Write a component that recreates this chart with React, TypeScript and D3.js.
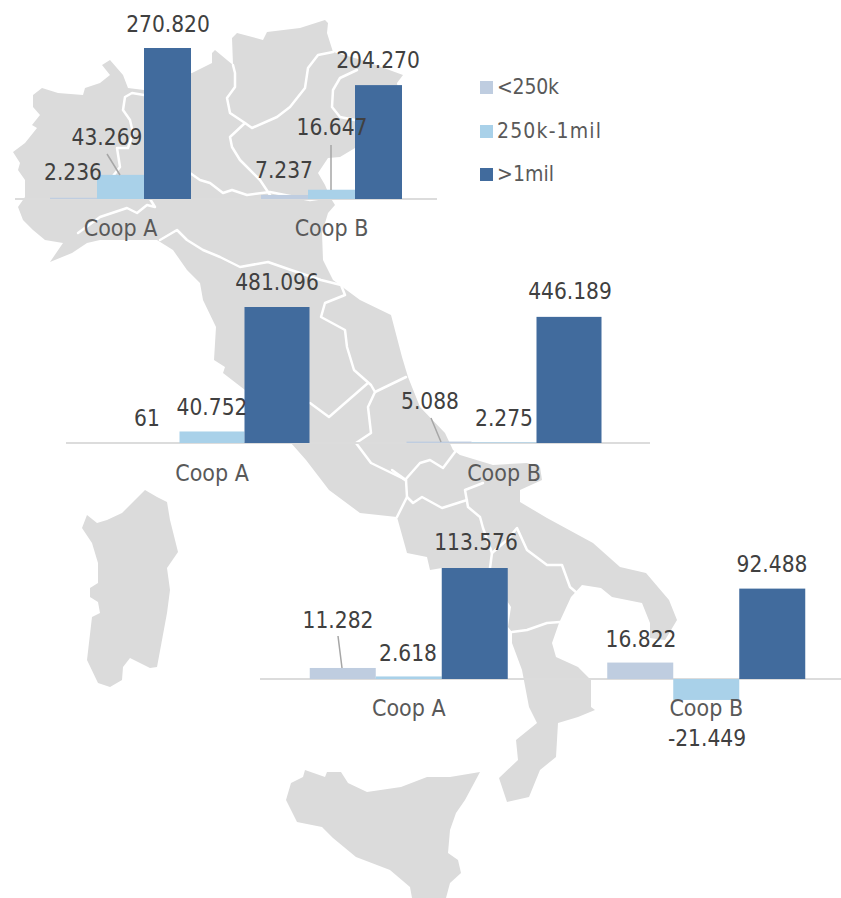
import React from "react";
import * as d3 from "d3";

// ---- chart data ----
const categories = ["Coop A", "Coop B"];
const seriesNames = ["<250k", "250k-1mil", ">1mil"];
const seriesColors = ["#bfcde0", "#a9d1e9", "#416b9d"];
const northValues = [[2236, 43269, 270820], [7237, 16647, 204270]];
const centreValues = [[61, 40752, 481096], [5088, 2275, 446189]];
const southValues = [[11282, 2618, 113576], [16822, -21449, 92488]];

// ---- layout of the three small charts over the map ----
const panels = [
  { values: northValues, axisY: 199, topY: 48, xStart: 15, band: 211, barW: 47, catY: 236,
    labels: [[[73, 180], [107, 145], [168, 32]], [[284, 178], [332, 135], [378, 68]]] },
  { values: centreValues, axisY: 443, topY: 307, xStart: 66, band: 292, barW: 65, catY: 481,
    labels: [[[147, 426], [212, 415], [277, 290]], [[430, 409], [504, 426], [570, 299]]] },
  { values: southValues, axisY: 679, topY: 568, xStart: 260, band: 297.5, barW: 66, catY: 716,
    labels: [[[338, 628], [408, 661], [476, 550]], [[641, 647], [707, 746], [772, 572]]] },
];
const leaders = [
  [[107, 154], [120, 175]],
  [[331, 145], [331, 190]],
  [[431, 418], [441, 442]],
  [[338, 636], [342, 668]],
];

// ---- background map, traced by hand ----
const mainland: [number, number][] = [
  [33,95],[42,88],[58,93],[83,95],[85,88],[100,83],[110,75],[102,65],[110,60],[123,75],[128,88],[144,90],[150,78],[192,73],
  [212,63],[212,53],[215,50],[233,65],[232,38],[237,33],[263,40],[267,32],[300,28],[325,20],[328,23],[327,33],[333,52],
  [362,60],[403,75],[397,83],[402,120],[390,145],[355,148],[340,157],[328,158],[318,173],[325,185],[330,197],[335,205],
  [328,213],[322,233],[323,260],[333,280],[360,300],[391,315],[402,357],[408,377],[420,407],[445,433],[453,450],[460,455],
  [493,465],[527,463],[540,467],[542,480],[520,490],[520,502],[547,518],[593,543],[620,567],[646,573],[669,600],[677,620],
  [665,640],[650,638],[650,623],[642,603],[612,597],[601,588],[582,585],[571,597],[559,623],[552,643],[556,657],[578,667],
  [591,680],[591,707],[595,710],[578,717],[558,723],[556,757],[540,770],[529,797],[507,802],[499,778],[518,760],[516,740],
  [537,723],[529,707],[522,670],[512,643],[512,632],[508,627],[511,607],[500,590],[442,568],[430,570],[427,557],[407,553],
  [397,517],[360,513],[329,490],[306,460],[291,443],[245,390],[223,373],[225,367],[214,360],[216,327],[203,300],[200,283],
  [187,270],[173,250],[157,240],[100,240],[87,243],[72,253],[50,262],[63,243],[45,240],[33,230],[23,220],[18,207],[25,197],
  [25,180],[18,170],[20,163],[13,152],[25,143],[37,128],[32,125],[40,115],[33,107],
];
const sardinia: [number, number][] = [
  [145,490],[157,497],[167,502],[170,520],[178,552],[167,568],[170,590],[167,613],[157,667],[150,668],[130,658],[123,667],
  [122,680],[110,687],[98,683],[87,660],[92,617],[100,613],[98,602],[90,597],[90,588],[98,583],[98,563],[92,543],[82,528],
  [87,515],[97,523],[107,520],[122,513],[135,500],
];
const sicily: [number, number][] = [
  [286,800],[291,783],[303,777],[305,770],[325,777],[327,772],[341,772],[348,783],[367,792],[401,787],[427,777],[450,777],
  [480,772],[465,800],[456,813],[450,830],[448,853],[458,860],[461,873],[450,883],[446,898],[412,898],[410,887],[390,870],
  [356,857],[333,838],[322,827],[297,822],
];
const borders: [number, number][][] = [
  [[144,95],[132,93],[125,97],[123,110],[130,120],[133,133],[128,148],[117,148],[120,167],[113,176]],
  [[78,233],[100,217],[127,208],[137,213],[147,205],[155,207],[150,199]],
  [[160,240],[177,230],[187,240],[203,250],[220,257],[240,267],[268,262],[291,270],[321,280],[341,285],[345,295],[325,303],
   [321,317],[345,330],[347,347],[354,370],[371,385],[375,392],[368,407],[371,433],[356,443],[371,463],[406,480],[407,497],[397,517]],
  [[368,383],[329,417],[310,403]],
  [[375,392],[406,377]],
  [[233,65],[235,73],[235,87],[227,98],[230,113],[245,123],[252,128],[277,117],[290,107],[305,88],[308,68],[318,55],[333,52]],
  [[245,123],[230,137],[232,147],[240,160],[260,180],[270,195]],
  [[357,70],[340,78],[333,90],[332,107],[340,117],[355,120]],
  [[190,173],[200,180],[210,183],[223,193],[232,190],[247,195],[270,192],[310,200],[330,197]],
  [[406,480],[392,470],[405,480],[420,463],[430,460],[443,468],[455,452]],
  [[407,497],[413,503],[422,497],[442,508],[467,500]],
  [[483,483],[465,490],[468,507],[480,517],[483,528],[492,553],[490,568]],
  [[492,553],[507,540],[517,528],[527,550],[547,565],[562,565],[570,587],[577,593]],
  [[512,632],[527,630],[547,623],[560,622]],
];
const mapPaths = [mainland, sardinia, sicily];

const legendRows = [87, 131, 174];
const legendTextWidths = [62, 104, 57];
const FONT = "'DejaVu Sans Condensed', 'DejaVu Sans', sans-serif";
const dotted = d3.formatLocale({ decimal: ",", thousands: ".", grouping: [3], currency: ["", ""], minus: "-" }).format(",d");

function Panel({ p }: { p: (typeof panels)[number] }) {
  const max = d3.max(p.values.flat()) as number;
  const y = d3.scaleLinear().domain([0, max]).range([p.axisY, p.topY]);
  const x0 = d3.scaleBand<string>().domain(categories).range([p.xStart, p.xStart + p.band * 2]);
  const x1 = d3.scaleBand<string>().domain(seriesNames).range([0, p.barW * 3]);
  const offset = (p.band - p.barW * 3) / 2;
  return (
    <g>
      <line x1={p.xStart} x2={p.xStart + p.band * 2} y1={p.axisY} y2={p.axisY} stroke="#dcdcdc" strokeWidth={2} />
      {categories.map((c, ci) => (
        <g key={c}>
          {seriesNames.map((s, si) => {
            const v = p.values[ci][si];
            return (
              <rect key={s} x={(x0(c) as number) + offset + (x1(s) as number)} width={x1.bandwidth()}
                y={Math.min(y(v), y(0))} height={Math.abs(y(v) - y(0))} fill={seriesColors[si]} />
            );
          })}
          <text x={(x0(c) as number) + p.band / 2} y={p.catY} textAnchor="middle" fontSize={23} fill="#595959">{c}</text>
        </g>
      ))}
    </g>
  );
}

function PanelLabels({ p }: { p: (typeof panels)[number] }) {
  return (
    <g>
      {p.values.map((row, ci) => row.map((v, si) => (
        <text key={`${ci}-${si}`} x={p.labels[ci][si][0]} y={p.labels[ci][si][1]} textAnchor="middle" fontSize={22.5} fill="#404040">{dotted(v)}</text>
      )))}
    </g>
  );
}

export default function App() {
  const line = d3.line();
  return (
    <svg width={841} height={898} style={{ position: "absolute", left: 0, top: 0 }} fontFamily={FONT}>
      <rect width={841} height={898} fill="#ffffff" />
      {mapPaths.map((m, i) => <path key={i} d={line(m) + "Z"} fill="#dbdbdb" />)}
      {borders.map((b, i) => (
        <path key={i} d={line(b) as string} fill="none" stroke="#ffffff" strokeWidth={2.5} strokeLinejoin="round" strokeLinecap="round" />
      ))}
      {panels.map((p, i) => <Panel key={i} p={p} />)}
      {leaders.map((l, i) => (
        <path key={i} d={line(l as [number, number][]) as string} fill="none" stroke="#a6a6a6" strokeWidth={1.5} />
      ))}
      {panels.map((p, i) => <PanelLabels key={i} p={p} />)}
      {seriesNames.map((s, i) => (
        <g key={s}>
          <rect x={480} y={legendRows[i] - 6} width={13} height={13} fill={seriesColors[i]} />
          <text x={497} y={legendRows[i] + 7} fontSize={21} fill="#595959" textLength={legendTextWidths[i]} lengthAdjust="spacing">{s}</text>
        </g>
      ))}
    </svg>
  );
}
